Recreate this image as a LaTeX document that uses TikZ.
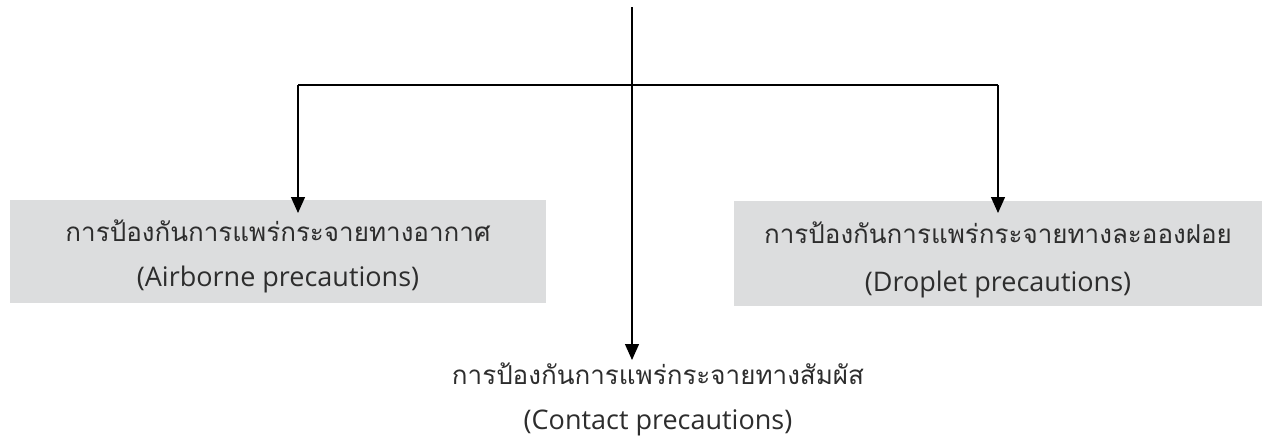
\documentclass[tikz,border=0pt]{standalone}
\usepackage{fontspec}
\setmainfont{Open Sans}
\newfontfamily\thaifont[Script=Thai]{Loma}
\usetikzlibrary{positioning}
\usetikzlibrary{calc}
\usetikzlibrary{arrows.meta}
\definecolor{boxgray}{RGB}{220,221,222}
\definecolor{textgray}{RGB}{45,45,45}

\begin{document}
\begin{tikzpicture}[x=1pt, y=-1pt]

\useasboundingbox (0,0) rectangle (1262,442);

\node[
	fill=boxgray,
	text=textgray,
	minimum width=536pt,
	minimum height=103pt,
	align=center,
	font=\fontsize{27}{45}\selectfont
] (airborne) at (278,251) {\rule{0pt}{32pt}{\thaifont\fontsize{26}{45}\selectfont การป้องกันการแพร่กระจายทางอากาศ}\\(Airborne precautions)};

\node[
	fill=boxgray,
	text=textgray,
	minimum width=528pt,
	minimum height=105pt,
	align=center,
	font=\fontsize{27}{48}\selectfont
] (droplet) at (998,253.5) {\rule{0pt}{34pt}{\thaifont\fontsize{26}{48}\selectfont การป้องกันการแพร่กระจายทางละอองฝอย}\\(Droplet precautions)};

\node[
	text=textgray,
	align=center,
	font=\fontsize{27}{45}\selectfont
] (contact) at (658,399) {{\thaifont\fontsize{26}{45}\selectfont การป้องกันการแพร่กระจายทางสัมผัส}\\(Contact precautions)};

\coordinate (top) at (632,7);
\coordinate (split) at (632,85);
\coordinate (airleft) at (298,85);
\coordinate (dropright) at (998,85);
\coordinate (airtip) at (298,213);
\coordinate (droptip) at (998,213);
\coordinate (contacttip) at (632,360);

\draw[line width=2.5pt] (airleft) -- (dropright);
\draw[line width=1.3pt, -{Triangle[width=14pt,length=16pt]}] (top) -- (contacttip);
\draw[line width=1.3pt, -{Triangle[width=14pt,length=16pt]}] (airleft) -- (airtip);
\draw[line width=1.3pt, -{Triangle[width=14pt,length=16pt]}] (dropright) -- (droptip);

\end{tikzpicture}
\end{document}
